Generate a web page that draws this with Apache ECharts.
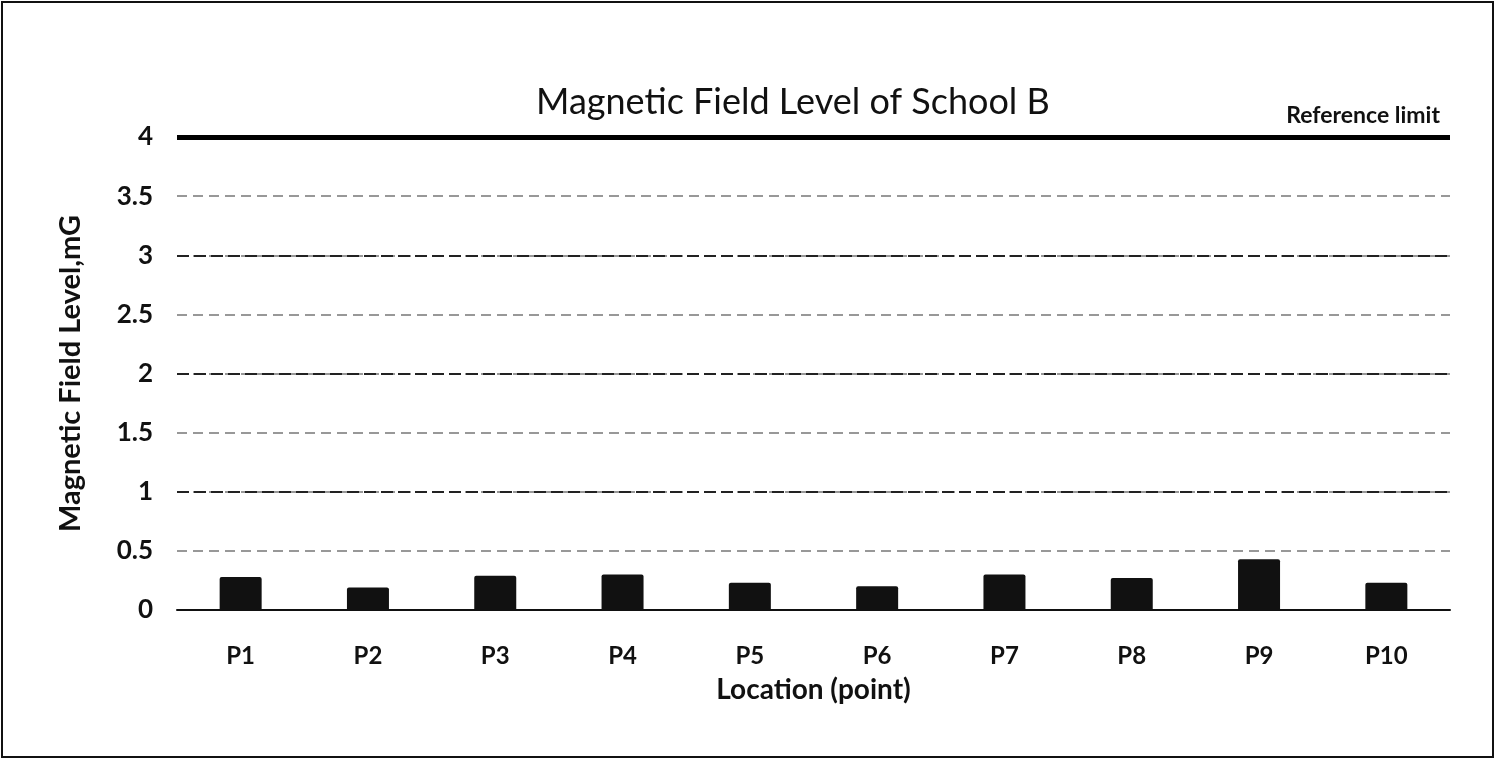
<!DOCTYPE html>
<html><head><meta charset="utf-8">
<script src="https://cdn.jsdelivr.net/npm/echarts@6/dist/echarts.min.js"></script>
<style>
html,body{margin:0;padding:0;background:#fff;}
#c{position:absolute;left:1px;top:1px;width:1489px;height:753px;border:2px solid #111;background:#fff;}
</style></head>
<body><div id="c"></div>
<script>
const categories = ['P1','P2','P3','P4','P5','P6','P7','P8','P9','P10'];
const fieldLevel = [0.28, 0.19, 0.29, 0.30, 0.23, 0.20, 0.30, 0.27, 0.43, 0.23];
const referenceLimit = 4;
const majorGridValues = [1, 2, 3];
const yTicks = { min: 0, max: 4, interval: 0.5 };

const chart = echarts.init(document.getElementById('c'));
const F = 'Lato, "Open Sans", sans-serif';
chart.setOption({
  animation: false,
  title: {
    text: 'Magnetic Field Level of School B',
    left: 528, top: 76,
    textStyle: { fontFamily: F, fontSize: 36, fontWeight: 'normal', color: '#111' }
  },
  grid: { left: 174, right: 42, top: 134, bottom: 146 },
  xAxis: {
    type: 'category', data: categories,
    name: 'Location (point)', nameLocation: 'middle', nameGap: 66,
    nameTextStyle: { fontFamily: F, fontSize: 28, fontWeight: 'bold', color: '#111' },
    axisLine: { lineStyle: { color: '#111', width: 2 } },
    axisTick: { show: false },
    axisLabel: { margin: 34, fontFamily: F, fontSize: 24, fontWeight: 'bold', color: '#111' }
  },
  yAxis: {
    type: 'value', min: yTicks.min, max: yTicks.max, interval: yTicks.interval,
    name: 'Magnetic Field Level,mG', nameLocation: 'middle', nameGap: 92,
    nameTextStyle: { fontFamily: F, fontSize: 29, fontWeight: 'bold', color: '#111' },
    axisLine: { show: false }, axisTick: { show: false },
    axisLabel: { margin: 24, fontFamily: F, fontSize: 26, fontWeight: 'bold', color: '#111' },
    splitLine: { lineStyle: { color: '#777', type: [10, 6], width: 1.5 } }
  },
  series: [{
    type: 'bar', data: fieldLevel, barWidth: 42,
    itemStyle: { color: '#111', borderRadius: [2, 2, 0, 0] },
    markLine: {
      symbol: 'none', silent: true,
      data: [
        { yAxis: referenceLimit,
          lineStyle: { color: '#000', width: 5, type: 'solid' },
          label: { show: true, position: 'insideEndTop', formatter: 'Reference limit', distance: [10, 10],
            fontFamily: F, fontSize: 23, fontWeight: 'bold', color: '#111' } }
      ].concat(majorGridValues.map(v => ({
        yAxis: v, lineStyle: { color: '#222', width: 2, type: [12, 5] }, label: { show: false }
      })))
    }
  }]
});
</script></body></html>
